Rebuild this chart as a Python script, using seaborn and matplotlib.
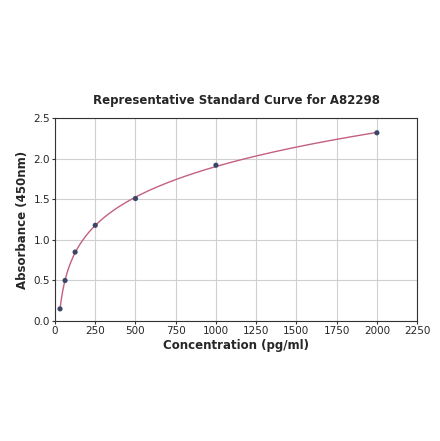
import matplotlib
matplotlib.use("Agg")
import matplotlib.pyplot as plt
import seaborn as sns
import numpy as np
import pandas as pd

conc = [31.25, 62.5, 125, 250, 500, 1000, 2000]
absorb = [0.15, 0.50, 0.85, 1.18, 1.51, 1.92, 2.32]
title = "Representative Standard Curve for A82298"

sns.set_style("whitegrid")
plt.rcParams['font.family'] = ['DejaVu Sans']

df = pd.DataFrame({'x': conc, 'y': absorb})

# smooth fit through the standards (polynomial in log concentration)
coef = np.polyfit(np.log(df['x']), df['y'], 3)
xs = np.linspace(min(conc), max(conc), 400)
fit = pd.DataFrame({'x': xs, 'y': np.polyval(coef, np.log(xs))})

fig = plt.figure(figsize=(4.4, 4.41), dpi=100)
ax = fig.add_axes([0.125, 0.272, 0.823, 0.46])
sns.lineplot(data=fit, x='x', y='y', ax=ax, color='#c4607e', linewidth=1.0)
sns.scatterplot(data=df, x='x', y='y', ax=ax, color='#3b4668', s=14,
                edgecolor='none', zorder=3)

ax.set_xlim(0, 2250)
ax.set_ylim(0, 2.5)
ax.set_xticks(np.arange(0, 2251, 250))
ax.set_yticks(np.arange(0, 2.51, 0.5))
ax.tick_params(labelsize=7.5, length=2, pad=1.5, color='#333333', left=True, bottom=True)
ax.grid(color='#d0d0d0', linewidth=0.8)
for s in ax.spines.values():
    s.set_color('#333333')
    s.set_linewidth(0.8)
ax.set_xlabel('Concentration (pg/ml)', fontsize=8.5, fontweight='bold', labelpad=2)
ax.set_ylabel('Absorbance (450nm)', fontsize=8.5, fontweight='bold', labelpad=3)
ax.set_title(title, fontsize=8.5, fontweight='bold', pad=10)

fig.savefig('out.png', dpi=100)
